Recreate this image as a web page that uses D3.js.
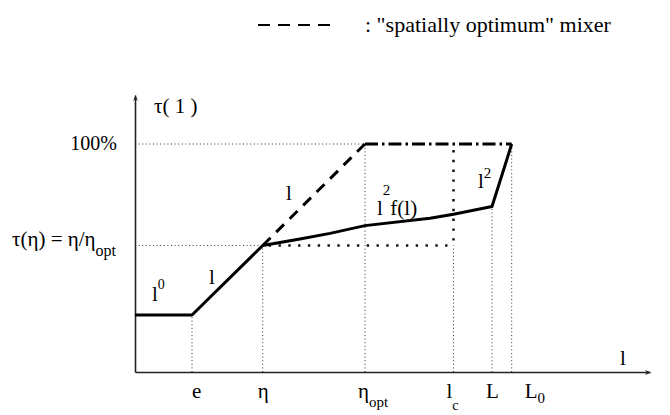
<!DOCTYPE html>
<html>
<head>
<meta charset="utf-8">
<script src="https://cdn.jsdelivr.net/npm/d3@7"></script>
<style>
  html, body { margin: 0; padding: 0; background: #fff; }
  svg { display: block; }
  svg text, svg tspan { font-family: "Liberation Serif", "Tinos", "Times New Roman"; }
</style>
</head>
<body>
<svg id="chart" width="670" height="415"></svg>
<script>
// Characteristic lengths along the l axis (arbitrary units)
const markNames = ["e", "η", "η_opt", "l_c", "L", "L_0"];
const markPos   = [57, 127.7, 230, 318.5, 357, 376.7];

// τ(l) in percent
const tauTop  = 100;   // 100%
const tauEta  = 55.5;  // τ(η) = η/η_opt
const tauFlat = 25;    // plateau for l < e

// Solid curve: actual mixer
const curveL   = [0, 57, 127.7, 165, 195, 230, 295, 318.5, 357, 376.7];
const curveTau = [25, 25, 55.5, 58.3, 60.8, 64.2, 67.4, 69.2, 72.6, 100];

// Dashed curve: spatially optimum mixer
const optL   = [127.7, 230];
const optTau = [55.5, 100];

// Dash-dot plateau at 100%
const capL   = [230, 376.7];
const capTau = [100, 100];

const SERIF = '"Liberation Serif"';

const svg = d3.select("#chart");
const x = d3.scaleLinear().domain([0, 515]).range([135, 650]);
const y = d3.scaleLinear().domain([0, 100]).range([372, 144]);
const yTop = 121.5;

const pos = name => x(markPos[markNames.indexOf(name)]);

// arrow marker for the axes
svg.append("defs").append("marker")
  .attr("id", "arrow").attr("viewBox", "0 0 10 10")
  .attr("refX", 9).attr("refY", 5)
  .attr("markerWidth", 10).attr("markerHeight", 6)
  .attr("markerUnits", "userSpaceOnUse")
  .attr("orient", "auto")
  .append("path").attr("d", "M0,1 L10,5 L0,9 L3,5 Z").attr("fill", "#222");

// thin dotted guides
const thin = svg.append("g").attr("fill", "none")
  .attr("stroke", "#333").attr("stroke-width", 1).attr("stroke-dasharray", "1,2.6");
const vGuides = [
  ["e", tauFlat], ["η", tauEta], ["η_opt", tauTop], ["l_c", tauEta], ["L", 72.6], ["L_0", tauTop]
];
vGuides.forEach(([n, t]) => {
  thin.append("line").attr("x1", pos(n)).attr("x2", pos(n)).attr("y1", y(0)).attr("y2", y(t));
});
thin.append("line").attr("x1", x(0)).attr("x2", pos("η_opt")).attr("y1", y(tauTop)).attr("y2", y(tauTop));
thin.append("line").attr("x1", x(0)).attr("x2", pos("η")).attr("y1", y(tauEta)).attr("y2", y(tauEta));

// heavy dotted guides around l_c
const heavy = svg.append("g").attr("fill", "none")
  .attr("stroke", "#111").attr("stroke-width", 2.5).attr("stroke-dasharray", "2.4,7.4");
heavy.append("line").attr("x1", pos("η") + 6).attr("x2", pos("l_c")).attr("y1", y(tauEta)).attr("y2", y(tauEta));
heavy.append("line").attr("x1", pos("l_c")).attr("x2", pos("l_c")).attr("y1", y(tauTop) + 6).attr("y2", y(tauEta));

// axes
const gx = svg.append("g").attr("transform", `translate(0,${y(0)})`)
  .call(d3.axisBottom(x).tickValues([]).tickSizeOuter(0));
gx.select(".domain").attr("stroke", "#222").attr("stroke-width", 1.6).attr("marker-end", "url(#arrow)");
const yExt = d3.scaleLinear().domain([0, yTop]).range([y(0), y(yTop)]);
const gy = svg.append("g").attr("transform", `translate(${x(0)},0)`)
  .call(d3.axisLeft(yExt).tickValues([]).tickSizeOuter(0));
gy.select(".domain").attr("stroke", "#222").attr("stroke-width", 1.6).attr("marker-end", "url(#arrow)");

const line = d3.line().x(d => x(d[0])).y(d => y(d[1]));

// 100% plateau, dash-dot
svg.append("path").datum(d3.zip(capL, capTau)).attr("d", line)
  .attr("fill", "none").attr("stroke", "#000").attr("stroke-width", 3)
  .attr("stroke-dasharray", "13,4,2.5,4");

// spatially optimum mixer, dashed
svg.append("path").datum(d3.zip(optL, optTau)).attr("d", line)
  .attr("fill", "none").attr("stroke", "#000").attr("stroke-width", 3)
  .attr("stroke-dasharray", "11,8");

// actual mixer, solid
svg.append("path").datum(d3.zip(curveL, curveTau)).attr("d", line)
  .attr("fill", "none").attr("stroke", "#000").attr("stroke-width", 3)
  .attr("stroke-linejoin", "round");

// text with sub/superscripts: parts = [[text, baselineOffset, fontSize]]
function label(px, py, parts, size, anchor) {
  const t = svg.append("text").attr("x", px).attr("y", py)
    .style("font-family", SERIF).attr("fill", "#000")
    .style("font-size", size + "px").attr("text-anchor", anchor || "start");
  let shift = 0;
  parts.forEach(([s, dy, fs]) => {
    t.append("tspan").attr("dy", dy - shift)
      .style("font-size", (fs || size) + "px").text(s);
    shift = dy;
  });
  return t;
}

// x tick labels
const tickLabels = [
  ["e", [["e", 0]]],
  ["η", [["η", 0]]],
  ["η_opt", [["η", 0], ["opt", 9, 15]]],
  ["l_c", [["l", 0], ["c", 12, 14]]],
  ["L", [["L", 0]]],
  ["L_0", [["L", 0], ["0", 5, 15]]]
];
const tickOffset = { "e": 0, "η": -5, "η_opt": -7, "l_c": -7, "L": -6, "L_0": 13 };
tickLabels.forEach(([n, parts]) => {
  label(pos(n) + tickOffset[n], 398, parts, 21, "start");
});

// axis titles
label(620, 365, [["l", 0]], 21);
label(154, 113, [["τ( 1 )", 0]], 21);

// y tick labels
label(117, 150, [["100%", 0]], 20, "end");
label(12, 246, [["τ(η) = η/η", 0], ["opt", 10, 16]], 21);

// segment labels
label(152, 301, [["l", 0], ["0", -12, 14]], 21);
label(209, 284, [["l", 0]], 21);
label(286, 200, [["l", 0]], 21);
label(377, 215, [["l", 0], ["2", -20, 15], ["f(l)", 0, 21]], 21);
label(478, 188, [["l", 0], ["2", -10, 15]], 21);

// legend
svg.append("line").attr("x1", 258).attr("x2", 330).attr("y1", 25).attr("y2", 25)
  .attr("stroke", "#000").attr("stroke-width", 2).attr("stroke-dasharray", "12,8");
label(365, 32, [[": \"spatially optimum\" mixer", 0]], 22);
</script>
</body>
</html>
